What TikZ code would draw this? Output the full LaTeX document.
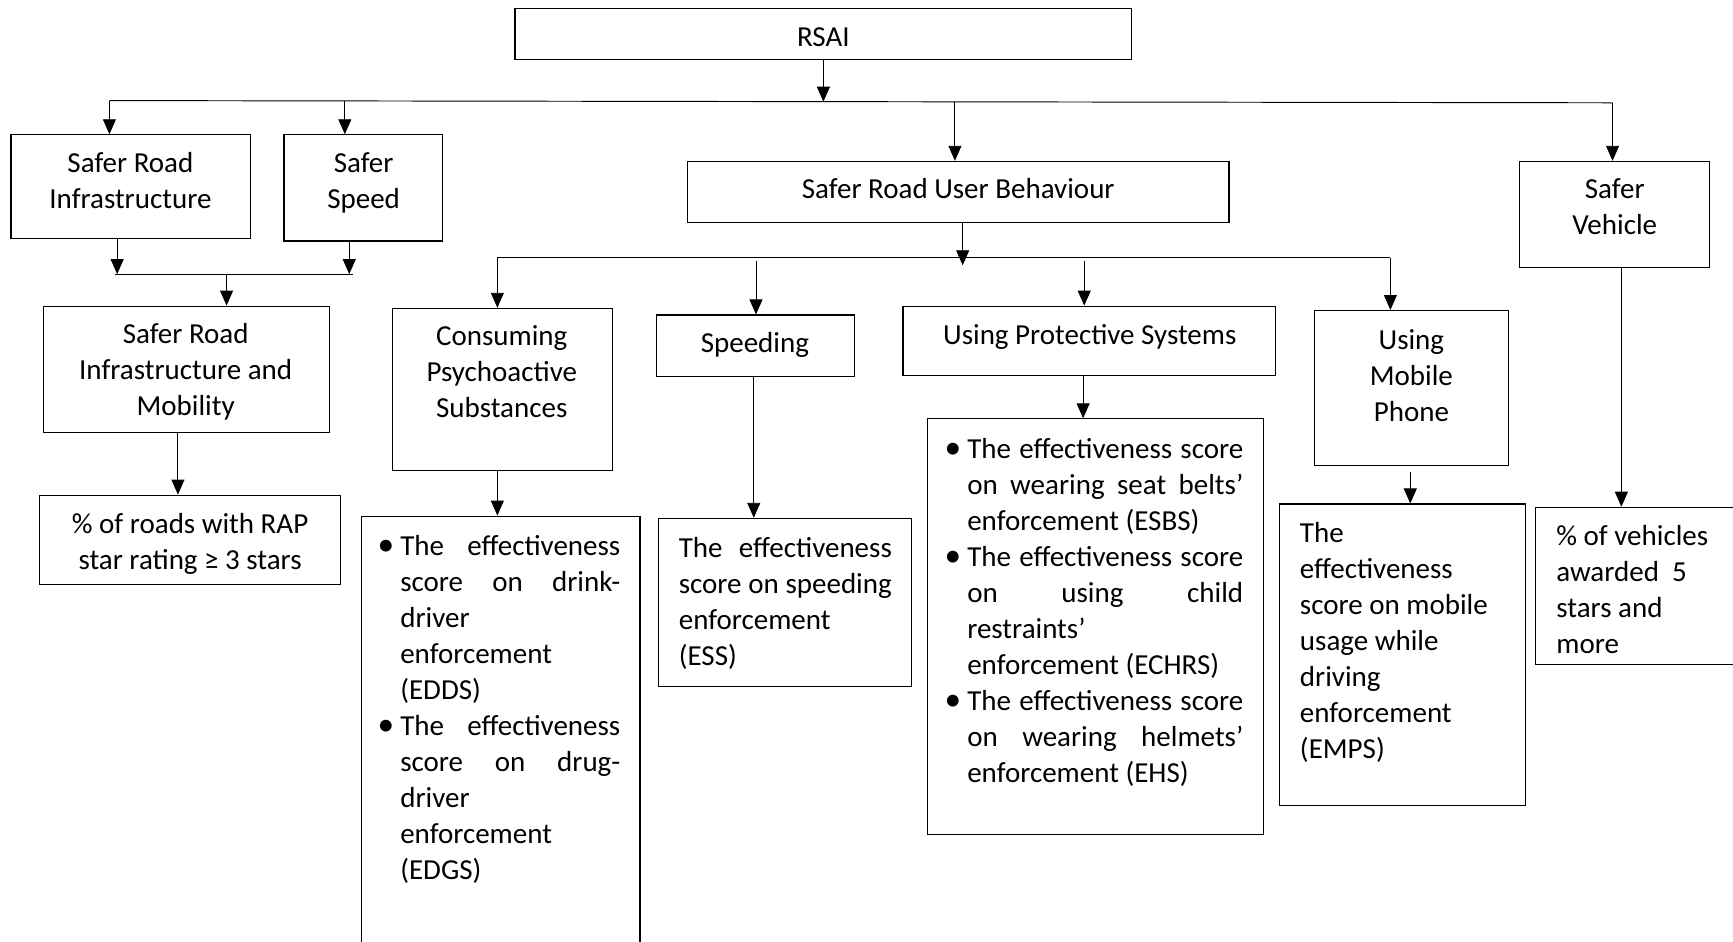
\documentclass[tikz,border=0pt]{standalone}
\usepackage{fontspec}
\setmainfont{Carlito}
\usetikzlibrary{arrows.meta,fit}
\newcommand\fsz{\fontsize{29pt}{36pt}\selectfont}
% stacked lines, the node's baseline being that of the first line
\newcommand\ctab[1]{\begin{tabular}[t]{@{}c@{}}#1\end{tabular}}
\newcommand\ltab[1]{\begin{tabular}[t]{@{}l@{}}#1\end{tabular}}
% a justified line stretched to a given width
\newcommand\jl[2]{\makebox[#1][s]{#2}}
% hanging bullet in front of a list item
\newcommand\bul{\llap{\scalebox{1.15}{•}\hspace{6pt}}}

\begin{document}
\begin{tikzpicture}[x=1.1052pt,y=-1.1052pt,
  box/.style={draw, line width=1.15pt, inner sep=0pt},
  txt/.style={inner sep=0pt, font=\fsz},
  arr/.style={line width=0.95pt, -{Triangle[width=13pt,length=15pt]}},
  ln/.style={line width=0.95pt}]
\useasboundingbox (0,0) rectangle (1568,852);
\clip (0,0) rectangle (1568,852);

% ---------- boxes ----------
\node[box, fit={(466,8)(1024,54)}] (rsai) {};
\node[box, fit={(10,122)(227,216)}] (sri) {};
\node[box, fit={(257,122)(400,218)}] (sspd) {};
\node[box, fit={(622,146)(1112,201)}] (srub) {};
\node[box, fit={(1375,146)(1547,242)}] (sveh) {};
\node[box, fit={(39,277)(298,391)}] (srim) {};
\node[box, fit={(36,448)(308,529)}] (rap) {};
\node[box, fit={(355,279)(554,426)}] (cps) {};
\node[box, fit={(594,285)(773,341)}] (spdg) {};
\node[box, fit={(817,277)(1154,340)}] (ups) {};
\node[box, fit={(1189,281)(1365,421)}] (ump) {};
\node[box, fit={(327,467)(579,900)}] (cpsI) {};
\node[box, fit={(596,469)(825,621)}] (ess) {};
\node[box, fit={(839,379)(1143,755)}] (upsI) {};
\node[box, fit={(1158,456)(1380,729)}] (emps) {};
\node[box, fit={(1389,459)(1600,601)}] (vehI) {};

% ---------- texts ----------
\node[txt, anchor=base] (rsaiT) at (745,42) {RSAI};
\node[txt, anchor=base] (sriT) at (118,156) {\ctab{Safer Road\\Infrastructure}};
\node[txt, anchor=base] (sspdT) at (329,156) {\ctab{Safer\\Speed}};
\node[txt, anchor=base] (srubT) at (867,180) {Safer Road User Behaviour};
\node[txt, anchor=base] (svehT) at (1461,180) {\ctab{Safer\\Vehicle}};
\node[txt, anchor=base] (srimT) at (168,311) {\ctab{Safer Road\\Infrastructure and\\Mobility}};
\node[txt, anchor=base] (rapT) at (172,483) {\ctab{\% of roads with RAP\\star rating ≥ 3 stars}};
\node[txt, anchor=base] (cpsT) at (454,313) {\ctab{Consuming\\Psychoactive\\Substances}};
\node[txt, anchor=base] (spdgT) at (683,319) {Speeding};
\node[txt, anchor=base] (upsT) at (986,312) {Using Protective Systems};
\node[txt, anchor=base] (umpT) at (1277,316) {\ctab{Using\\Mobile\\Phone}};

\node[txt, anchor=base west] (cpsIT) at (362,503) {\ltab{%
\bul\jl{220pt}{The effectiveness}\\
\jl{220pt}{score on drink-}\\
driver\\
enforcement\\
(EDDS)\\
\bul\jl{220pt}{The effectiveness}\\
\jl{220pt}{score on drug-}\\
driver\\
enforcement\\
(EDGS)}};

\node[txt, anchor=base west] (essT) at (614,504) {\ltab{%
\jl{213pt}{The effectiveness}\\
\jl{213pt}{score on speeding}\\
enforcement\\
(ESS)}};

\node[txt, anchor=base west] (upsIT) at (875,415) {\ltab{%
\bul\jl{276pt}{The effectiveness score}\\
\jl{276pt}{on wearing seat belts’}\\
enforcement (ESBS)\\
\bul\jl{276pt}{The effectiveness score}\\
\jl{276pt}{on using child}\\
restraints’\\
enforcement (ECHRS)\\
\bul\jl{276pt}{The effectiveness score}\\
\jl{276pt}{on wearing helmets’}\\
enforcement (EHS)}};

\node[txt, anchor=base west] (empsT) at (1176,491) {\ltab{The\\effectiveness\\score on mobile\\usage while\\driving\\enforcement\\(EMPS)}};
\node[txt, anchor=base west] (vehIT) at (1408,494) {\ltab{\% of vehicles\\awarded\ \ 5\\stars and\\more}};

% ---------- connectors ----------
\coordinate (b1) at (99,91);
\coordinate (b2) at (312,91.3);
\coordinate (b3) at (864,92);
\coordinate (b4) at (1459,93);
\draw[arr] (rsai.south) -- (rsai.south |- b3);
\draw[ln] (b1) -- (b4);
\draw[arr] (b1) -- (b1 |- sri.north);
\draw[arr] (b2) -- (b2 |- sspd.north);
\draw[arr] (b3) -- (b3 |- srub.north);
\draw[arr] (b4) -- (b4 |- sveh.north);

\coordinate (j1) at (106,248);
\coordinate (j2) at (316,248);
\coordinate (jL) at (104,248);
\coordinate (jR) at (319,248);
\coordinate (j0) at (205,248);
\draw[arr] (sri.south -| j1) -- (j1);
\draw[arr] (sspd.south -| j2) -- (j2);
\draw[ln] (jL) -- (jR);
\draw[arr] (j0) -- (j0 |- srim.north);
\coordinate (k1) at (161,0);
\draw[arr] (srim.south -| k1) -- (rap.north -| k1);

\coordinate (c0) at (871,240);
\coordinate (cL) at (450,233);
\coordinate (cR) at (1258,233);
\coordinate (c2) at (684,236);
\coordinate (c3) at (981,236);
\draw[arr] (srub.south -| c0) -- (c0);
\draw[ln] (cL) -- (cR);
\draw[arr] (cL) -- (cL |- cps.north);
\draw[arr] (c2) -- (c2 |- spdg.north);
\draw[arr] (c3) -- (c3 |- ups.north);
\draw[arr] (cR) -- (cR |- ump.north);

\coordinate (d2) at (682,0);
\coordinate (d3) at (980,0);
\coordinate (d4) at (1276,427);
\coordinate (d5) at (1467,0);
\draw[arr] (cps.south -| cL) -- (cpsI.north -| cL);
\draw[arr] (spdg.south -| d2) -- (ess.north -| d2);
\draw[arr] (ups.south -| d3) -- (upsI.north -| d3);
\draw[arr] (d4) -- (d4 |- emps.north);
\draw[arr] (sveh.south -| d5) -- (vehI.north -| d5);
\end{tikzpicture}
\end{document}
